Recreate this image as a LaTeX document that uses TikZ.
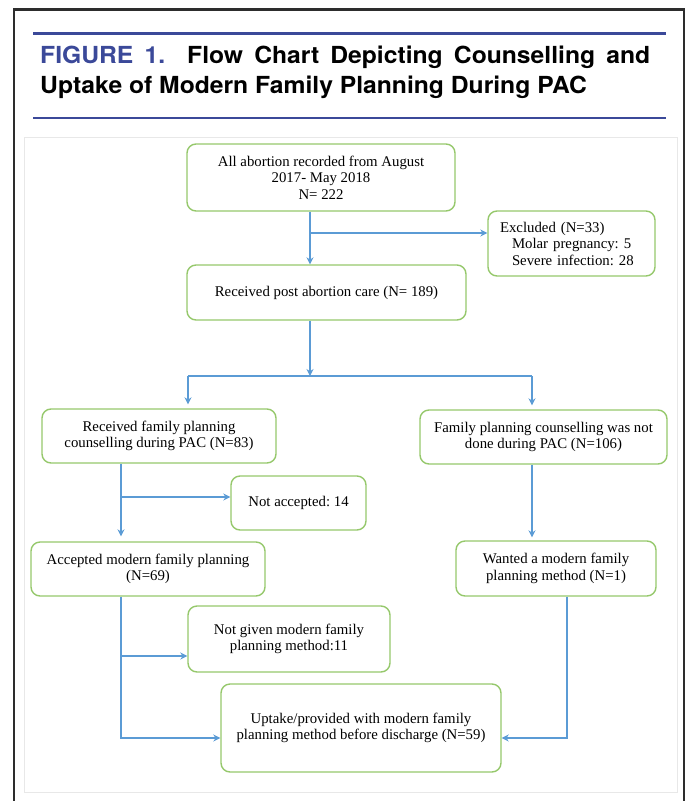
\documentclass[tikz,border=0pt]{standalone}
\usepackage{fontspec}
\usepackage{tikz}
\usetikzlibrary{arrows.meta,positioning}
\newfontfamily\boxfont{Liberation Serif}
\newfontfamily\headfont[FakeStretch=1.05]{TeX Gyre Heros}
\definecolor{headblue}{RGB}{59,73,153}
\definecolor{boxgreen}{RGB}{150,200,108}
\definecolor{arrowblue}{RGB}{91,155,213}
\definecolor{framegray}{RGB}{45,45,45}
\definecolor{panelgray}{RGB}{232,232,232}

\begin{document}
\begin{tikzpicture}[x=1pt,y=-1pt]
    \tikzset{stage/.style={draw=boxgreen,line width=1.4pt,rounded corners=9pt,fill=white,
        align=center,inner sep=0pt,font=\boxfont\fontsize{14.8}{16.5}\selectfont\frenchspacing}}
    \tikzset{link/.style={draw=arrowblue,line width=1.2pt}}
    \tikzset{arr/.style={link,-{Stealth[length=7pt,width=7pt]}}}
    \useasboundingbox (0,0) rectangle (688,801);
    \draw[framegray,line width=2.6pt] (14,805) -- (14,9.5) -- (684,9.5) -- (684,805);
    \draw[headblue,line width=3pt] (33,33) -- (666,33);
    \draw[headblue,line width=2.6pt] (33,118) -- (666,118);
    \node[anchor=north west,inner sep=0pt,text width=610pt,align=justify,
        font=\headfont\bfseries\fontsize{23.5}{30}\selectfont] (title) at (40,46)
        {\textcolor{headblue}{FIGURE 1.} Flow Chart Depicting Counselling and\linebreak
        Uptake of Modern Family Planning During PAC};
    \draw[panelgray,line width=1pt] (24,137) rectangle (677,792);
    \node[stage,minimum width=268pt,minimum height=67pt] (all) at (321,177.5)
        {All abortion recorded from August\\2017- May 2018\\N= 222};
    \node[stage,minimum width=167pt,minimum height=65pt,text width=143pt,align=left] (excl) at (571.5,243.5)
        {Excluded (N=33)\\\hspace*{12pt}Molar pregnancy: 5\\\hspace*{12pt}Severe infection: 28};
    \node[stage,minimum width=279pt,minimum height=55pt] (pac) at (326.5,292.5)
        {Received post abortion care (N= 189)};
    \node[stage,minimum width=234pt,minimum height=54pt] (fpc) at (159,436)
        {Received family planning\\counselling during PAC (N=83)};
    \node[stage,minimum width=247pt,minimum height=54pt] (nofpc) at (543.5,437)
        {Family planning counselling was not\\done during PAC (N=106)};
    \node[stage,minimum width=135pt,minimum height=54pt] (nacc) at (298.5,503)
        {Not accepted: 14};
    \node[stage,minimum width=234pt,minimum height=54pt] (acc) at (148,569)
        {Accepted modern family planning\\(N=69)};
    \node[stage,minimum width=200pt,minimum height=55pt] (want) at (556,568.5)
        {Wanted a modern family\\planning method (N=1)};
    \node[stage,minimum width=202pt,minimum height=66pt] (ngiven) at (289,639)
        {Not given modern family\\planning method:11};
    \node[stage,minimum width=280pt,minimum height=88pt] (upt) at (361,728)
        {Uptake/provided with modern family\\planning method before discharge (N=59)};
    \coordinate (j1) at (310,233);
    \coordinate (j2) at (310,376);
    \coordinate (bl) at (188,376);
    \coordinate (br) at (532,376);
    \coordinate (j3) at (121,497);
    \coordinate (j4) at (121,656);
    \coordinate (c1) at (121,738);
    \coordinate (c2) at (567,738);
    \draw[arr] (all.south -| j1) -- (pac.north -| j1);
    \draw[arr] (j1) -- (excl.west |- j1);
    \draw[arr] (pac.south -| j2) -- (j2);
    \draw[link] (bl) -- (br);
    \draw[arr,shorten >=4pt] (bl) -- (fpc.north -| bl);
    \draw[arr,shorten >=4pt] (br) -- (nofpc.north -| br);
    \draw[arr,shorten >=5pt] (fpc.south -| j3) -- (acc.north -| j3);
    \draw[arr] (j3) -- (nacc.west |- j3);
    \draw[arr,shorten >=3pt] (nofpc.south -| br) -- (want.north -| br);
    \draw[arr] (acc.south -| c1) -- (c1) -- (upt.west |- c1);
    \draw[arr] (j4) -- (ngiven.west |- j4);
    \draw[arr] (want.south -| c2) -- (c2) -- (upt.east |- c2);
\end{tikzpicture}
\end{document}
